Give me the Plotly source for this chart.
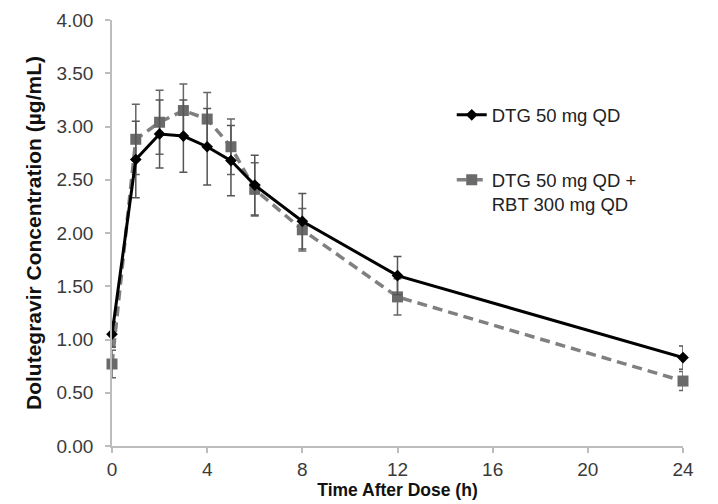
import plotly.graph_objects as go

time_h = [0, 1, 2, 3, 4, 5, 6, 8, 12, 24]
dtg_mean = [1.05, 2.69, 2.93, 2.91, 2.81, 2.68, 2.45, 2.11, 1.60, 0.83]
dtg_err = [0.12, 0.36, 0.32, 0.34, 0.36, 0.33, 0.28, 0.26, 0.18, 0.11]
rbt_mean = [0.77, 2.88, 3.04, 3.15, 3.07, 2.81, 2.41, 2.03, 1.40, 0.61]
rbt_err = [0.13, 0.33, 0.30, 0.25, 0.25, 0.26, 0.25, 0.20, 0.17, 0.09]
x_ticks = [0, 4, 8, 12, 16, 20, 24]
y_ticks = [0, 0.5, 1.0, 1.5, 2.0, 2.5, 3.0, 3.5, 4.0]

fig = go.Figure()
fig.add_trace(go.Scatter(
    x=time_h, y=rbt_mean, name="DTG 50 mg QD +<br>RBT 300 mg QD",
    mode="lines+markers", legendgroup="b", legendrank=2,
    line=dict(color="#808080", width=3.5, dash="10px,6px"),
    marker=dict(symbol="square", size=11, color="#6a6a6a"),
    error_y=dict(type="data", array=rbt_err, color="#666666", thickness=1.5, width=4),
    cliponaxis=False,
))
fig.add_trace(go.Scatter(
    x=time_h, y=dtg_mean, name="DTG 50 mg QD",
    mode="lines+markers", legendgroup="a", legendrank=1,
    line=dict(color="#000000", width=3),
    marker=dict(symbol="diamond", size=9, color="#000000"),
    error_y=dict(type="data", array=dtg_err, color="#555555", thickness=1.5, width=4),
    cliponaxis=False,
))

# the page body adds an 8 px offset; the figure is sized to fit the window
fig.update_layout(
    width=710, height=496,
    margin=dict(l=104, r=35, t=12, b=57.5),
    paper_bgcolor="white", plot_bgcolor="white",
    font=dict(family="Liberation Sans, Arial, sans-serif", size=19, color="#3a3a3a"),
    showlegend=True,
    legend=dict(
        x=0.595, y=0.821, xanchor="left", yanchor="top",
        traceorder="grouped", tracegroupgap=38, valign="top",
        font=dict(size=18.5, color="#222222"), bgcolor="rgba(0,0,0,0)",
    ),
    xaxis=dict(
        range=[0, 24], tickvals=x_ticks, ticktext=[str(v) for v in x_ticks],
        showgrid=False, zeroline=False, showline=True, linecolor="#bdbdbd", linewidth=1.5,
        ticks="outside", ticklen=5, tickcolor="#bdbdbd", tickwidth=1.5, automargin=False,
        title=dict(text="<b>Time After Dose (h)</b>", font=dict(size=17.5, color="#111111"), standoff=4),
    ),
    yaxis=dict(
        range=[0, 4], tickvals=y_ticks, ticktext=[f"{v:.2f}" for v in y_ticks],
        showgrid=False, zeroline=False, showline=True, linecolor="#bdbdbd", linewidth=1.5,
        ticks="outside", ticklen=5, tickcolor="#bdbdbd", tickwidth=1.5, automargin=False,
        ticklabelstandoff=8,
        title=dict(text="<b>Dolutegravir Concentration (µg/mL)</b>", font=dict(size=21, color="#111111"), standoff=9),
    ),
)

fig.write_html("out.html")
